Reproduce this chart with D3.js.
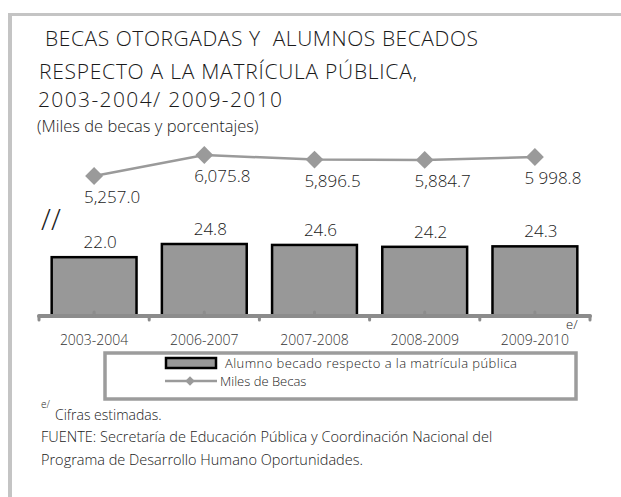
<!DOCTYPE html>
<html>
<head>
<meta charset="utf-8">
<script src="https://cdn.jsdelivr.net/npm/d3@7"></script>
<style>
  body { margin: 0; background: #fff; }
  svg text { font-family: "Open Sans", "Noto Sans", sans-serif; fill: #1a1a1a; font-weight: 300; }
</style>
</head>
<body>
<div id="chart"></div>
<script>
// datos del grafico
const categories = ["2003-2004", "2006-2007", "2007-2008", "2008-2009", "2009-2010"];
const becadoPct = [22.0, 24.8, 24.6, 24.2, 24.3];
const milesBecas = [5257.0, 6075.8, 5896.5, 5884.7, 5998.8];
const becasLabels = ["5,257.0", "6,075.8", "5,896.5", "5,884.7", "5 998.8"];
const titleLines = [" BECAS OTORGADAS Y  ALUMNOS BECADOS", "RESPECTO A LA MATRÍCULA PÚBLICA,", "2003-2004/ 2009-2010"];
const subtitle = "(Miles de becas y porcentajes)";
const legendLabels = ["Alumno becado respecto a la matrícula pública", "Miles de Becas"];
const notes = ["FUENTE: Secretaría de Educación Pública y Coordinación Nacional del", "Programa de Desarrollo Humano Oportunidades."];

drawChart()

function drawChart() {
  var svg = d3.select("#chart")
    .append("svg")
    .attr("width", 621)
    .attr("height", 497)

  // marco gris
  svg.append("rect").attr("x", 8).attr("y", 13).attr("width", 613).attr("height", 3).style("fill", "#c4c4c4")
  svg.append("rect").attr("x", 8).attr("y", 13).attr("width", 4).attr("height", 484).style("fill", "#c4c4c4")

  // titulo (ancho ajustado al original)
  var ty = [46, 79, 107]
  var tx = [39, 39, 38]
  var tw = [439, 378, 244]
  titleLines.forEach(function(t, i) {
    svg.append("text")
      .attr("x", tx[i])
      .attr("y", ty[i])
      .attr("xml:space", "preserve")
      .attr("textLength", tw[i])
      .attr("lengthAdjust", "spacing")
      .style("font-size", "21px")
      .text(t)
  })
  svg.append("text")
    .attr("x", 37)
    .attr("y", 132)
    .style("font-size", "16.5px")
    .text(subtitle)

  const xScale = d3.scaleBand()
    .domain(categories)
    .range([39, 590]);

  const yScale = d3.scaleLinear()
    .domain([9.5, 24.8])
    .range([316, 244]);

  const lineScale = d3.scaleLinear()
    .domain([5257.0, 6075.8])
    .range([176, 155]);

  const barW = xScale.bandwidth() * 0.77;
  const cx = d => xScale(d) + xScale.bandwidth() / 2;

  // barras
  svg.selectAll(".bar")
    .data(categories)
    .join("rect")
    .attr("class", "bar")
    .attr("x", d => cx(d) - barW / 2)
    .attr("y", (d, i) => yScale(becadoPct[i]))
    .attr("width", barW)
    .attr("height", (d, i) => 316 - yScale(becadoPct[i]))
    .style("fill", "#989898")
    .style("stroke", "#000")
    .style("stroke-width", "2.5px")

  svg.selectAll(".barlabel")
    .data(categories)
    .join("text")
    .attr("class", "barlabel")
    .attr("x", d => cx(d) + 6)
    .attr("y", (d, i) => yScale(becadoPct[i]) - 9)
    .style("text-anchor", "middle")
    .style("font-size", "17px")
    .text((d, i) => becadoPct[i].toFixed(1))

  // eje x
  const r = xScale.range()
  svg.append("line")
    .attr("x1", r[0]).attr("x2", r[1])
    .attr("y1", 316).attr("y2", 316)
    .style("stroke", "#8c8c8c")
    .style("stroke-width", "4px")
    .style("stroke-linecap", "round")

  var bounds = categories.map(d => xScale(d)).concat([r[1]])
  svg.selectAll(".tick")
    .data(bounds)
    .join("line")
    .attr("class", "tick")
    .attr("x1", d => d).attr("x2", d => d)
    .attr("y1", 316).attr("y2", 320)
    .style("stroke", "#8c8c8c")
    .style("stroke-width", "3px")
    .style("stroke-linecap", "round")

  svg.selectAll(".ctick")
    .data(categories)
    .join("line")
    .attr("class", "ctick")
    .attr("x1", d => cx(d)).attr("x2", d => cx(d))
    .attr("y1", 316).attr("y2", 312)
    .style("stroke", "#8c8c8c")
    .style("stroke-width", "3px")
    .style("stroke-linecap", "round")

  svg.selectAll(".xlabel")
    .data(categories)
    .join("text")
    .attr("class", "xlabel")
    .attr("x", d => cx(d))
    .attr("y", 345)
    .style("text-anchor", "middle")
    .style("font-size", "14px")
    .style("fill", "#333")
    .text(d => d)

  svg.append("text")
    .attr("x", 566)
    .attr("y", 329)
    .style("font-size", "13px")
    .text("e/")

  // linea de becas
  const line = d3.line()
    .x((d, i) => cx(categories[i]))
    .y(d => lineScale(d));

  svg.append("path")
    .datum(milesBecas)
    .attr("d", line)
    .style("fill", "none")
    .style("stroke", "#9a9a9a")
    .style("stroke-width", "2.5px")

  svg.selectAll(".pt")
    .data(milesBecas)
    .join("path")
    .attr("class", "pt")
    .attr("d", d3.symbol(d3.symbolSquare, 160))
    .attr("transform", (d, i) => `translate(${cx(categories[i])},${lineScale(d)}) rotate(45)`)
    .style("fill", "#9a9a9a")

  svg.selectAll(".ptlabel")
    .data(milesBecas)
    .join("text")
    .attr("class", "ptlabel")
    .attr("x", (d, i) => cx(categories[i]) + 18)
    .attr("y", d => lineScale(d) + 27)
    .style("text-anchor", "middle")
    .style("font-size", "17px")
    .text((d, i) => becasLabels[i])

  // corte del eje
  svg.append("text")
    .attr("x", 41)
    .attr("y", 230)
    .style("font-size", "29px")
    .text("//")

  // leyenda
  svg.append("rect")
    .attr("x", 105).attr("y", 353)
    .attr("width", 471).attr("height", 46)
    .style("fill", "none")
    .style("stroke", "#9c9c9c")
    .style("stroke-width", "3.5px")

  svg.append("rect")
    .attr("x", 166).attr("y", 358)
    .attr("width", 50).attr("height", 10)
    .style("fill", "#989898")
    .style("stroke", "#000")
    .style("stroke-width", "2.5px")

  svg.append("line")
    .attr("x1", 165).attr("x2", 217)
    .attr("y1", 381).attr("y2", 381)
    .style("stroke", "#9a9a9a")
    .style("stroke-width", "2.5px")

  svg.append("path")
    .attr("d", d3.symbol(d3.symbolSquare, 45))
    .attr("transform", "translate(190,381) rotate(45)")
    .style("fill", "#9a9a9a")

  svg.append("text")
    .attr("x", 225).attr("y", 368)
    .attr("textLength", 292)
    .attr("lengthAdjust", "spacing")
    .style("font-size", "13px")
    .text(legendLabels[0])
  svg.append("text")
    .attr("x", 220).attr("y", 386)
    .style("font-size", "13px")
    .text(legendLabels[1])

  // notas
  svg.append("text")
    .attr("x", 41).attr("y", 408)
    .style("font-size", "10px")
    .text("e/")
  svg.append("text")
    .attr("x", 55).attr("y", 420)
    .style("font-size", "14px")
    .text("Cifras estimadas.")
  var ny = [442, 465]
  notes.forEach(function(t, i) {
    svg.append("text")
      .attr("x", 41)
      .attr("y", ny[i])
      .style("font-size", "14.5px")
      .text(t)
  })
}
</script>
</body>
</html>
